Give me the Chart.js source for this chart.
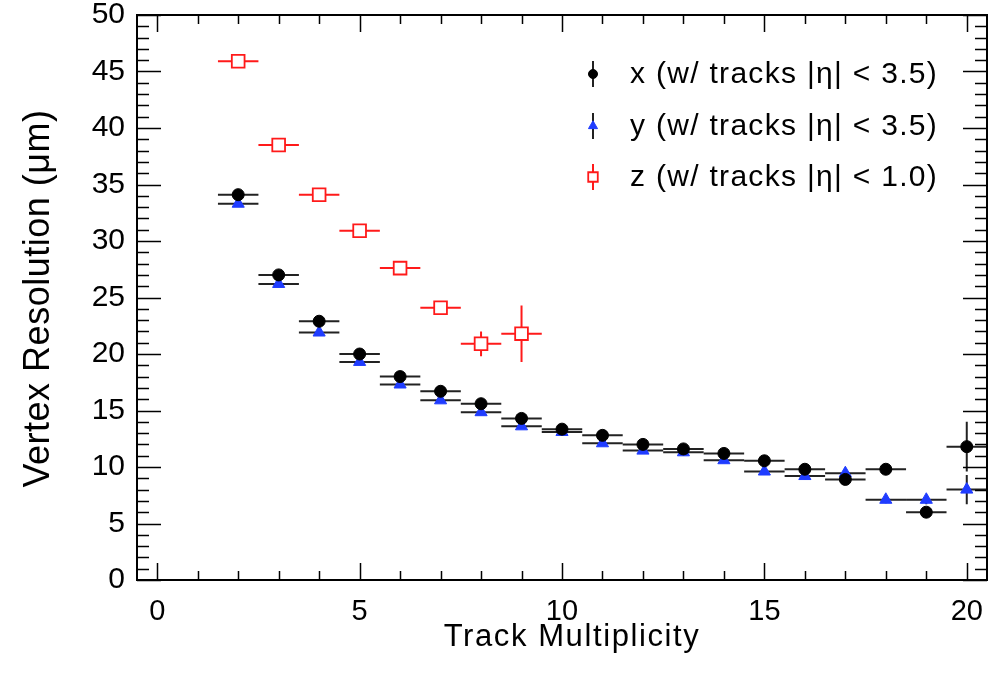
<!DOCTYPE html>
<html lang="en">
<head>
    <meta charset="UTF-8">
    <title>Vertex Resolution vs Track Multiplicity</title>
    <script src="https://cdn.jsdelivr.net/npm/chart.js@4"></script>
    <style>
        body {
            margin: 0;
            background: #ffffff;
            overflow: hidden;
        }
        canvas {
            display: block;
        }
    </style>
</head>
<body>

    <canvas id="vertexChart" width="989" height="682"></canvas>

    <script>
        // bins of track multiplicity
        const multXY = [2, 3, 4, 5, 6, 7, 8, 9, 10, 11, 12, 13, 14, 15, 16, 17, 18, 19, 20];
        const resX = [34.1, 27.0, 22.9, 20.0, 18.0, 16.7, 15.6, 14.3, 13.35, 12.8, 12.0, 11.6, 11.2, 10.55, 9.8, 8.9, 9.8, 6.0, 11.8];
        const errX = [0.2, 0.2, 0.2, 0.2, 0.2, 0.2, 0.2, 0.2, 0.2, 0.2, 0.2, 0.2, 0.2, 0.2, 0.3, 0.3, 0.3, 0.4, 2.2];
        const resY = [33.3, 26.2, 21.9, 19.3, 17.3, 15.9, 14.85, 13.6, 13.1, 12.1, 11.45, 11.3, 10.6, 9.6, 9.2, 9.45, 7.1, 7.1, 8.0];
        const errY = [0.2, 0.2, 0.2, 0.2, 0.2, 0.2, 0.2, 0.2, 0.2, 0.2, 0.2, 0.2, 0.2, 0.2, 0.3, 0.3, 0.3, 0.4, 1.3];
        const multZ = [2, 3, 4, 5, 6, 7, 8, 9];
        const resZ = [45.9, 38.5, 34.1, 30.9, 27.6, 24.1, 20.9, 21.8];
        const errZ = [0.15, 0.15, 0.2, 0.2, 0.3, 0.5, 1.1, 2.5];
        const binHalf = 0.5;

        const xTicks = [0, 5, 10, 15, 20];
        const yTicks = [0, 5, 10, 15, 20, 25, 30, 35, 40, 45, 50];

        const labels = [
            'x (w/ tracks |η| < 3.5)',
            'y (w/ tracks |η| < 3.5)',
            'z (w/ tracks |η| < 1.0)'
        ];

        const FONT = "'Liberation Sans', Arial, Helvetica, sans-serif";

        function toPoints(xs, ys, es) {
            return xs.map((m, i) => ({ x: m, y: ys[i], err: es[i] }));
        }

        // horizontal bin bars + vertical errors, drawn under the markers
        const errorBars = {
            id: 'errorBars',
            beforeDatasetsDraw(chart) {
                const { ctx, chartArea: a, scales: { x, y } } = chart;
                ctx.save();
                ctx.beginPath();
                ctx.rect(a.left, a.top, a.width, a.height);
                ctx.clip();
                chart.data.datasets.forEach(ds => {
                    ctx.strokeStyle = ds.errColor;
                    ctx.lineWidth = 2;
                    ds.data.forEach(p => {
                        const px = x.getPixelForValue(p.x);
                        const py = y.getPixelForValue(p.y);
                        ctx.beginPath();
                        ctx.moveTo(x.getPixelForValue(p.x - binHalf), py);
                        ctx.lineTo(x.getPixelForValue(p.x + binHalf), py);
                        ctx.moveTo(px, y.getPixelForValue(p.y - p.err));
                        ctx.lineTo(px, y.getPixelForValue(p.y + p.err));
                        ctx.stroke();
                    });
                });
                ctx.restore();
            }
        };

        // ROOT style frame: ticks inside on all four sides, titles, legend
        const rootFrame = {
            id: 'rootFrame',
            afterDraw(chart) {
                const { ctx, chartArea: a, scales: { x, y } } = chart;
                ctx.save();
                ctx.strokeStyle = '#000';
                ctx.lineWidth = 2;
                ctx.strokeRect(a.left, a.top, a.width, a.height);

                ctx.lineWidth = 1.5;
                ctx.beginPath();
                for (let v = 0; v <= 20; v++) {
                    const len = v % 5 === 0 ? 17 : 9;
                    const px = Math.round(x.getPixelForValue(v)) + 0.5;
                    ctx.moveTo(px, a.bottom);
                    ctx.lineTo(px, a.bottom - len);
                    ctx.moveTo(px, a.top);
                    ctx.lineTo(px, a.top + len);
                }
                for (let v = 0; v <= 50; v++) {
                    const len = v % 5 === 0 ? 24 : 12;
                    const py = Math.round(y.getPixelForValue(v)) + 0.5;
                    ctx.moveTo(a.left, py);
                    ctx.lineTo(a.left + len, py);
                    ctx.moveTo(a.right, py);
                    ctx.lineTo(a.right - len, py);
                }
                ctx.stroke();

                // axis titles
                ctx.fillStyle = '#000';
                ctx.textAlign = 'center';
                ctx.textBaseline = 'middle';
                ctx.font = '31px ' + FONT;
                ctx.letterSpacing = '1.6px';
                ctx.fillText('Track Multiplicity', (a.left + a.right) / 2 + 10, 637);

                ctx.save();
                ctx.translate(39, (a.top + a.bottom) / 2 + 1);
                ctx.rotate(-Math.PI / 2);
                ctx.font = '36px ' + FONT;
                ctx.letterSpacing = '0.5px';
                ctx.fillText('Vertex Resolution (\u03bcm)', 0, 0);
                ctx.restore();

                // legend
                const rows = [74, 126, 177];
                const mx = 593;
                ctx.font = '30px ' + FONT;
                ctx.letterSpacing = '1.3px';
                ctx.textAlign = 'left';
                chart.data.datasets.forEach((ds, i) => {
                    const ry = rows[i];
                    ctx.strokeStyle = ds.errColor;
                    ctx.lineWidth = 2;
                    ctx.beginPath();
                    ctx.moveTo(mx, ry - 13);
                    ctx.lineTo(mx, ry + 13);
                    ctx.stroke();
                    ctx.fillStyle = ds.backgroundColor;
                    ctx.strokeStyle = ds.borderColor;
                    ctx.lineWidth = ds.borderWidth;
                    Chart.helpers.drawPoint(ctx, {
                        pointStyle: ds.pointStyle,
                        radius: ds.pointRadius * 0.75,
                        borderWidth: ds.borderWidth,
                        rotation: 0
                    }, mx, ry);
                    ctx.fillStyle = '#000';
                    ctx.fillText(ds.label, 630, ry + 1);
                });
                ctx.restore();
            }
        };

        const ctx = document.getElementById('vertexChart').getContext('2d');

        const vertexChart = new Chart(ctx, {
            type: 'scatter',
            data: {
                datasets: [
                    {
                        label: labels[0],
                        data: toPoints(multXY, resX, errX),
                        pointStyle: 'circle',
                        pointRadius: 6,
                        backgroundColor: '#000000',
                        borderColor: '#000000',
                        borderWidth: 1,
                        errColor: '#222222'
                    },
                    {
                        label: labels[1],
                        data: toPoints(multXY, resY, errY),
                        pointStyle: 'triangle',
                        pointRadius: 7,
                        backgroundColor: '#1f3cff',
                        borderColor: '#1f3cff',
                        borderWidth: 1,
                        errColor: '#222222'
                    },
                    {
                        label: labels[2],
                        data: toPoints(multZ, resZ, errZ),
                        pointStyle: 'rect',
                        pointRadius: 9,
                        backgroundColor: '#ffffff',
                        borderColor: '#ff1a1a',
                        borderWidth: 1.8,
                        errColor: '#ff1a1a'
                    }
                ]
            },
            options: {
                responsive: false,
                animation: false,
                devicePixelRatio: 1,
                layout: {
                    autoPadding: false,
                    padding: { top: 15, right: 2, left: 0, bottom: 0 }
                },
                scales: {
                    x: {
                        type: 'linear',
                        min: -0.5,
                        max: 20.5,
                        afterBuildTicks: s => { s.ticks = xTicks.map(v => ({ value: v })); },
                        afterFit: s => { s.height = 102; s.paddingLeft = 0; s.paddingRight = 0; },
                        grid: { display: false, drawTicks: false },
                        border: { display: false },
                        ticks: {
                            color: '#000',
                            padding: 0,   // label drop comes from lineHeight
                            maxRotation: 0,
                            font: { family: FONT, size: 29, lineHeight: 2.18 }
                        }
                    },
                    y: {
                        type: 'linear',
                        min: 0,
                        max: 50,
                        afterBuildTicks: s => { s.ticks = yTicks.map(v => ({ value: v })); },
                        afterFit: s => { s.width = 137; s.paddingTop = 0; s.paddingBottom = 0; },
                        grid: { display: false, drawTicks: false },
                        border: { display: false },
                        ticks: {
                            color: '#000',
                            padding: 12,
                            font: { family: FONT, size: 30 }
                        }
                    }
                },
                plugins: {
                    legend: { display: false },
                    tooltip: { enabled: false }
                }
            },
            plugins: [errorBars, rootFrame]
        });
    </script>

</body>
</html>
